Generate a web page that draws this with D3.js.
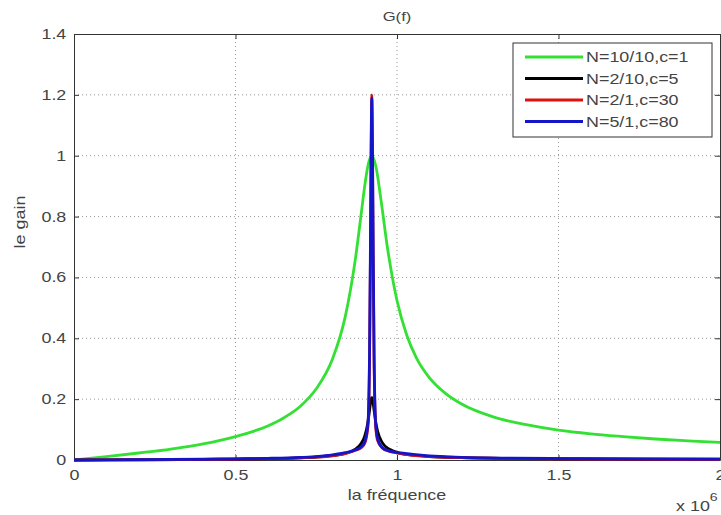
<!DOCTYPE html>
<html>
<head>
<meta charset="utf-8">
<script src="https://cdn.jsdelivr.net/npm/d3@7"></script>
<style>
	body { margin: 0; background: #fff; }
	svg { display: block; font-family: "Liberation Sans", Arial, sans-serif; }
</style>
</head>
<body>
<svg id="chart"></svg>
<script>
// frequencies are in units of 10^6
const freqGreen = [0, 0.1, 0.2, 0.3, 0.4, 0.5, 0.6, 0.65, 0.7, 0.75, 0.8, 0.84, 0.87, 0.89, 0.9, 0.91, 0.922,
	0.935, 0.95, 0.97, 1.0, 1.03, 1.06, 1.1, 1.15, 1.2, 1.3, 1.4, 1.5, 1.6, 1.7, 1.8, 1.9, 2.0];
const gainGreen = [0, 0.011, 0.023, 0.036, 0.053, 0.077, 0.112, 0.139, 0.176, 0.234, 0.331, 0.472, 0.652, 0.816, 0.9, 0.967, 1.0,
	0.963, 0.858, 0.701, 0.524, 0.411, 0.336, 0.271, 0.219, 0.184, 0.141, 0.116, 0.098, 0.086, 0.077, 0.069, 0.063, 0.058];

const freqNarrow = [0, 0.2, 0.4, 0.5, 0.6, 0.7, 0.75, 0.8, 0.84, 0.87, 0.89, 0.9, 0.91, 0.915, 0.918, 0.92, 0.921, 0.922,
	0.923, 0.924, 0.926, 0.929, 0.934, 0.94, 0.955, 0.975, 1.0, 1.05, 1.1, 1.2, 1.35, 1.5, 1.75, 2.0];
const gainBlack = [0, 0.0009, 0.0022, 0.0032, 0.0046, 0.0073, 0.0099, 0.0144, 0.0219, 0.0347, 0.0559, 0.0783, 0.1244, 0.163, 0.188, 0.2003, 0.2038, 0.205,
	0.2038, 0.2003, 0.188, 0.1636, 0.1254, 0.0942, 0.0561, 0.0361, 0.025, 0.0157, 0.0115, 0.0077, 0.0053, 0.0041, 0.003, 0.0024];
const gainRed = [0, 0.0009, 0.0021, 0.0031, 0.0045, 0.0072, 0.0096, 0.014, 0.021, 0.031, 0.041, 0.054, 0.11, 0.33, 0.7, 1.0, 1.12, 1.2,
	1.12, 1.0, 0.7, 0.33, 0.11, 0.064, 0.039, 0.029, 0.0235, 0.0153, 0.0113, 0.0075, 0.0051, 0.004, 0.0029, 0.0023];
const gainBlue = [0, 0.0011, 0.0025, 0.0037, 0.0054, 0.0085, 0.0114, 0.0167, 0.024, 0.033, 0.045, 0.06, 0.12, 0.35, 0.75, 1.05, 1.15, 1.19,
	1.15, 1.05, 0.75, 0.35, 0.12, 0.07, 0.04, 0.03, 0.025, 0.0183, 0.0134, 0.0089, 0.0061, 0.0047, 0.0035, 0.0028];

const seriesNames = ["N=10/10,c=1", "N=2/10,c=5", "N=2/1,c=30", "N=5/1,c=80"];
const seriesColors = ["#33e033", "#000000", "#e01010", "#1414c8"];

const xTicks = [0, 0.5, 1, 1.5, 2];
const yTicks = [0, 0.2, 0.4, 0.6, 0.8, 1, 1.2, 1.4];

const W = 721, H = 515;
const margin = { left: 74, top: 34, right: 1, bottom: 55 };
const width = W - margin.left - margin.right;
const height = H - margin.top - margin.bottom;
const sx = 1.28; // text in the picture is stretched sideways
const txtColor = "#444";

const svg = d3.select("#chart").attr("width", W).attr("height", H);
const g = svg.append("g").attr("transform", `translate(${margin.left},${margin.top})`);

const x = d3.scaleLinear().domain([0, 2]).range([0, width]);
const y = d3.scaleLinear().domain([0, 1.4]).range([height, 0]);

// grid
g.selectAll(".gx").data(xTicks.slice(1, -1)).enter().append("line")
	.attr("x1", d => x(d)).attr("x2", d => x(d)).attr("y1", 0).attr("y2", height)
	.attr("stroke", "#9a9a9a").attr("stroke-dasharray", "1,3");
g.selectAll(".gy").data(yTicks.slice(1, -1)).enter().append("line")
	.attr("y1", d => y(d)).attr("y2", d => y(d)).attr("x1", 0).attr("x2", width)
	.attr("stroke", "#9a9a9a").attr("stroke-dasharray", "1,3");

// axes (MATLAB style ticks inside)
const fmt = d => d3.format("~g")(d);
const axB = g.append("g").attr("transform", `translate(0,${height})`)
	.call(d3.axisBottom(x).tickValues(xTicks).tickFormat(fmt).tickSizeInner(-5).tickSizeOuter(0).tickPadding(10));
const axL = g.append("g")
	.call(d3.axisLeft(y).tickValues(yTicks).tickFormat(fmt).tickSizeInner(-5).tickSizeOuter(0).tickPadding(6));
const axT = g.append("g")
	.call(d3.axisTop(x).tickValues(xTicks).tickFormat("").tickSizeInner(-5).tickSizeOuter(0));
const axR = g.append("g").attr("transform", `translate(${width},0)`)
	.call(d3.axisRight(y).tickValues(yTicks).tickFormat("").tickSizeInner(-5).tickSizeOuter(0));
[axB, axL, axT, axR].forEach(a => {
	a.select(".domain").attr("stroke", "#333");
	a.selectAll(".tick line").attr("stroke", "#333");
	a.selectAll("text").attr("fill", txtColor).style("font-size", "14px")
		.attr("transform", `scale(${sx},1)`);
});

// curves
const line = d3.line().x(d => x(d[0])).y(d => y(d[1])).curve(d3.curveMonotoneX);
const curves = [
	d3.zip(freqGreen, gainGreen),
	d3.zip(freqNarrow, gainBlack),
	d3.zip(freqNarrow, gainRed),
	d3.zip(freqNarrow, gainBlue)
];
curves.forEach((c, i) => {
	g.append("path").datum(c).attr("d", line)
		.attr("fill", "none").attr("stroke", seriesColors[i])
		.attr("stroke-width", 2.8).attr("stroke-linejoin", "round");
});

// labels
function label(px, py, txt, size, anchor, rot) {
	return svg.append("text")
		.attr("transform", `translate(${px},${py})${rot ? " rotate(" + rot + ")" : ""} scale(${sx},1)`)
		.attr("text-anchor", anchor || "start").attr("fill", txtColor)
		.style("font-size", size + "px").text(txt);
}
label(397, 21, "G(f)", 13, "middle");
label(397, 500, "la fréquence", 14, "middle");
label(25, 222, "le gain", 14, "middle", -90);
const mult = label(676, 511, "", 14);
mult.append("tspan").text("x 10");
mult.append("tspan").attr("dy", -10).style("font-size", "11px").text("6");

// legend
const lg = svg.append("g").attr("transform", "translate(513,43)");
lg.append("rect").attr("width", 199).attr("height", 94)
	.attr("fill", "#fff").attr("stroke", "#333");
seriesNames.forEach((n, i) => {
	const yy = 14 + i * 21.5;
	lg.append("line").attr("x1", 12).attr("x2", 70).attr("y1", yy).attr("y2", yy)
		.attr("stroke", seriesColors[i]).attr("stroke-width", 2.8);
	lg.append("text").attr("transform", `translate(73,${yy + 5}) scale(${sx},1)`)
		.attr("fill", txtColor).style("font-size", "14px").text(n);
});
</script>
</body>
</html>
